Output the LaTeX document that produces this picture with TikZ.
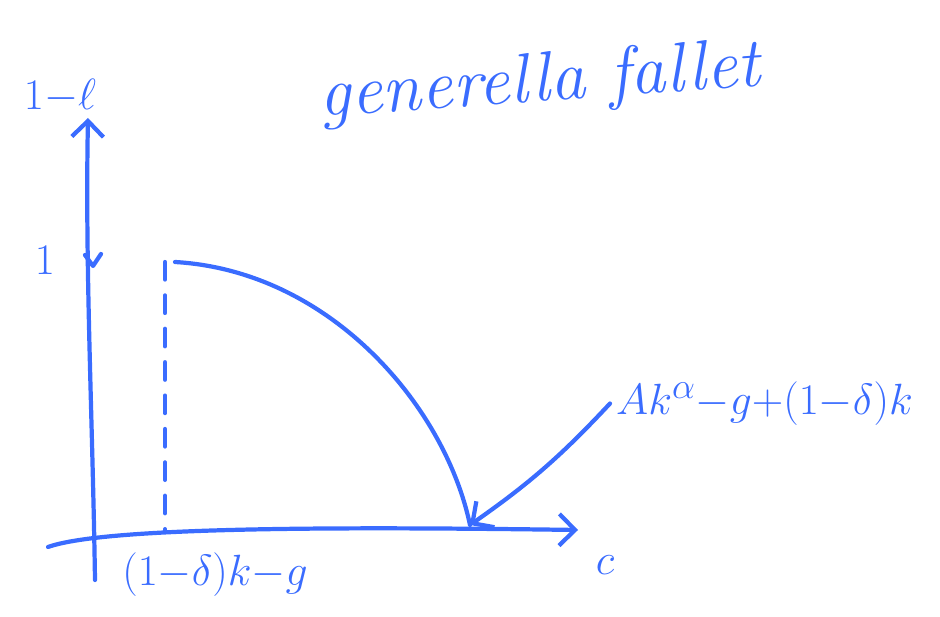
\documentclass[tikz,border=0pt]{standalone}
\usepackage{amsmath,amssymb}
\usepackage{tikz}
\usetikzlibrary{arrows.meta,positioning}
\definecolor{pen}{RGB}{58,108,255}

\begin{document}
\begin{tikzpicture}[>={Straight Barb[length=9pt,width=18pt]},
  ink/.style={draw=pen, line width=2.4pt, line cap=round, line join=round},
  txt/.style={text=pen, font=\fontsize{28}{32}\selectfont},
  ttl/.style={text=pen, font=\fontsize{40}{44}\selectfont\itshape}]
\useasboundingbox (0,0) rectangle (18.8,12.32);
% axes
\coordinate (ybot) at (1.9,0.72);
\coordinate (ytop) at (1.76,9.96);
\coordinate (xleft) at (0.96,1.38);
\coordinate (xright) at (11.56,1.72);
\draw[ink,->] (ybot) .. controls (1.85,4) and (1.7,7) .. (ytop);
\draw[ink,->] (xleft) .. controls (2,1.75) and (6,1.8) .. (xright);
\node[txt] (ylab) at (1.2,10.4) {$1{-}\ell$};
\node[txt] (xlab) at (12.1,1.02) {$c$};
% tick at 1
\coordinate (ytick) at (1.86,7.0);
\draw[ink] (1.7,7.22) -- (ytick) -- (2.02,7.24);
\node[txt] (one) at (0.9,7.12) {$1$};
% dashed drop
\coordinate (top) at (3.3,7.08);
\coordinate (foot) at (3.3,1.7);
\draw[ink, dash pattern=on 10pt off 9pt] (top) -- (foot);
\node[txt] (kg) at (4.3,0.82) {$(1{-}\delta)k{-}g$};
% the frontier
\coordinate (ks) at (9.4,1.82);
\draw[ink] (3.5,7.08) .. controls (6.6,6.9) and (8.9,4.2) .. (ks);
% label of the end point
\node[txt, anchor=west] (lbl) at (12.2,4.25) {$Ak^{\alpha}{-}g{+}(1{-}\delta)k$};
\draw[ink,->] (lbl.west) to[bend left=6] (ks);
% title
\node[ttl, rotate=4] (title) at (10.8,10.65) {generella fallet};
\end{tikzpicture}
\end{document}
